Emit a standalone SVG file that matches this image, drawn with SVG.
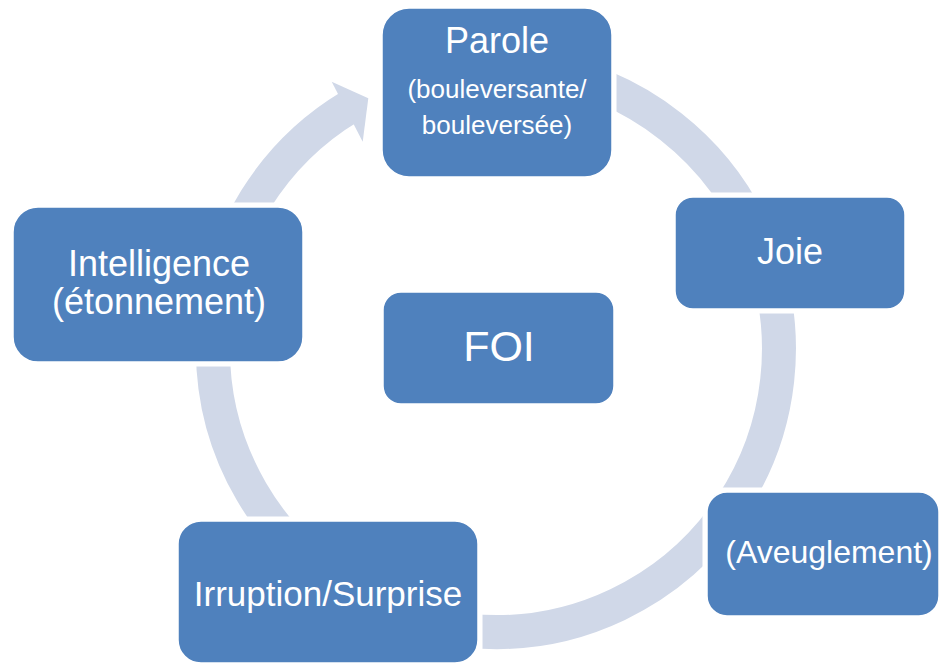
<svg xmlns="http://www.w3.org/2000/svg" width="942" height="664" viewBox="0 0 942 664">
  <style>
    .box { fill: #4F81BD; stroke: #FFFFFF; stroke-width: 1.5; }
    .lbl { fill: #FFFFFF; font-family: "Liberation Sans", Arial, sans-serif; text-anchor: middle; }
    .ring { fill: none; stroke: #D0D8E8; stroke-width: 34; }
    .head { fill: #D0D8E8; }
  </style>
  <defs>
    <mask id="gaps" maskUnits="userSpaceOnUse" x="0" y="0" width="942" height="664">
      <rect x="0" y="0" width="942" height="664" fill="#FFFFFF"/>
      <rect x="377.5" y="3.5" width="239" height="178" fill="#000000"/>
      <rect x="670.5" y="192.5" width="239" height="121" fill="#000000"/>
      <rect x="702.5" y="487.5" width="241" height="133" fill="#000000"/>
      <rect x="173.5" y="516.5" width="309" height="151" fill="#000000"/>
      <rect x="8.5" y="202.5" width="299" height="164" fill="#000000"/>
    </mask>
  </defs>
  <rect x="0" y="0" width="942" height="664" fill="#FFFFFF"/>
  <g id="connectors" mask="url(#gaps)">
    <path class="ring" d="M 399.2 83.1 A 283 283 0 1 1 350.3 106.4"/>
    <polygon class="head" points="331.7,81.7 368.3,98.3 362.7,141.7"/>
  </g>
  <g id="node-parole">
    <rect class="box" x="382" y="8" width="230" height="169" rx="27" ry="27"/>
    <text class="lbl" x="497" y="53" font-size="36">Parole</text>
    <text class="lbl" x="497" y="98" font-size="26">(bouleversante/</text>
    <text class="lbl" x="497" y="134" font-size="26">bouleversée)</text>
  </g>
  <g id="node-joie">
    <rect class="box" x="675" y="197" width="230" height="112" rx="18" ry="18"/>
    <text class="lbl" x="790" y="264" font-size="36">Joie</text>
  </g>
  <g id="node-aveuglement">
    <rect class="box" x="707" y="492" width="232" height="124" rx="20" ry="20"/>
    <text class="lbl" x="829" y="563" font-size="32">(Aveuglement)</text>
  </g>
  <g id="node-irruption">
    <rect class="box" x="178" y="521" width="300" height="142" rx="23" ry="23"/>
    <text class="lbl" x="328" y="606" font-size="35">Irruption/Surprise</text>
  </g>
  <g id="node-intelligence">
    <rect class="box" x="13" y="207" width="290" height="155" rx="25" ry="25"/>
    <text class="lbl" x="159" y="276" font-size="36">Intelligence</text>
    <text class="lbl" x="159" y="314" font-size="36">(étonnement)</text>
  </g>
  <g id="node-foi">
    <rect class="box" x="383" y="292" width="231" height="112" rx="18" ry="18"/>
    <text class="lbl" x="499" y="361" font-size="43">FOI</text>
  </g>
</svg>
